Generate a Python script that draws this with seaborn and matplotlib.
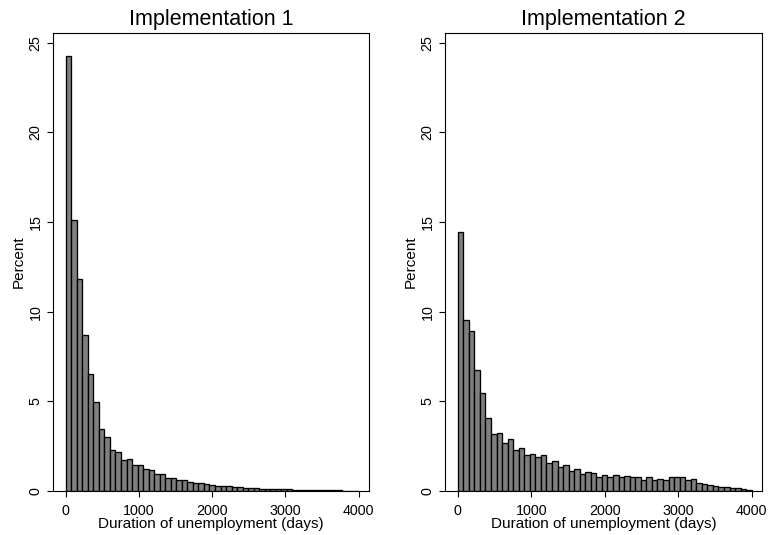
import numpy as np
import pandas as pd
import matplotlib
matplotlib.use("Agg")
import matplotlib.pyplot as plt
import seaborn as sns

# bin edges (days)
bin_edges = np.linspace(0, 4000, 54)

titles = ["Implementation 1", "Implementation 2"]
x_label = "Duration of unemployment (days)"
y_label = "Percent"
x_ticks = [0, 1000, 2000, 3000, 4000]
y_ticks = [0, 5, 10, 15, 20, 25]

# percent per bin, Implementation 1
pct_impl1 = [24.26, 15.11, 11.82, 8.72, 6.51, 4.98, 3.44, 3.03, 2.26, 2.16,
             1.75, 1.79, 1.47, 1.47, 1.21, 1.17, 0.96, 0.95, 0.74, 0.74,
             0.61, 0.62, 0.52, 0.45, 0.42, 0.37, 0.32, 0.30, 0.28, 0.26,
             0.22, 0.20, 0.18, 0.17, 0.15, 0.12, 0.11, 0.10, 0.10, 0.09,
             0.09, 0.08, 0.04, 0.04, 0.04, 0.06, 0.06, 0.06, 0.06, 0.05,
             0.02, 0.0, 0.0]

# percent per bin, Implementation 2
pct_impl2 = [14.44, 9.54, 8.91, 6.76, 5.46, 4.09, 3.20, 3.24, 2.70, 2.91,
             2.30, 2.41, 1.98, 2.06, 1.87, 2.03, 1.56, 1.65, 1.32, 1.44,
             1.13, 1.20, 0.94, 1.05, 1.00, 0.80, 0.92, 0.76, 0.91, 0.76,
             0.83, 0.76, 0.76, 0.59, 0.76, 0.59, 0.69, 0.63, 0.80, 0.76,
             0.76, 0.63, 0.65, 0.46, 0.37, 0.31, 0.28, 0.22, 0.20, 0.16,
             0.14, 0.12, 0.08]

sns.set_style("ticks")
plt.rcParams["font.family"] = ["Liberation Sans", "DejaVu Sans"]
plt.rcParams["text.color"] = "black"
plt.rcParams["axes.labelcolor"] = "black"
plt.rcParams["xtick.color"] = "black"
plt.rcParams["ytick.color"] = "black"

fig = plt.figure(figsize=(7.69, 5.35), dpi=100)
ax_pos = [
    [53 / 769, 1 - 491 / 535, 316 / 769, 458 / 535],
    [445 / 769, 1 - 491 / 535, 317 / 769, 458 / 535],
]

centers = (bin_edges[:-1] + bin_edges[1:]) / 2
for pos, title, pct in zip(ax_pos, titles, [pct_impl1, pct_impl2]):
    ax = fig.add_axes(pos)
    df = pd.DataFrame({"days": centers, "pct": pct})
    sns.barplot(data=df, x="days", y="pct", native_scale=True, width=1.0,
                color="#7f7f7f", saturation=1, edgecolor="black",
                linewidth=0.95, errorbar=None, ax=ax)
    ax.set_xlim(-173, 4140)
    ax.set_ylim(0, 25.54)
    ax.set_xticks(x_ticks)
    ax.set_xticklabels([str(v) for v in x_ticks])
    ax.set_yticks(y_ticks)
    ax.set_yticklabels([str(v) for v in y_ticks], rotation=90, va="center")
    ax.tick_params(axis="both", direction="out", length=4.5, width=0.8,
                   color="black", labelcolor="black", labelsize=10.3)
    ax.tick_params(axis="x", pad=5)
    ax.tick_params(axis="y", pad=3)
    ax.set_xlabel(x_label, fontsize=11, labelpad=-1, color="black")
    ax.set_ylabel(y_label, fontsize=11, labelpad=2, color="black")
    ax.set_title(title, fontsize=15.5, pad=6, color="black")
    for s in ax.spines.values():
        s.set_visible(True)
        s.set_linewidth(0.8)
        s.set_color("black")

fig.savefig("out.png", dpi=100, facecolor="white")
